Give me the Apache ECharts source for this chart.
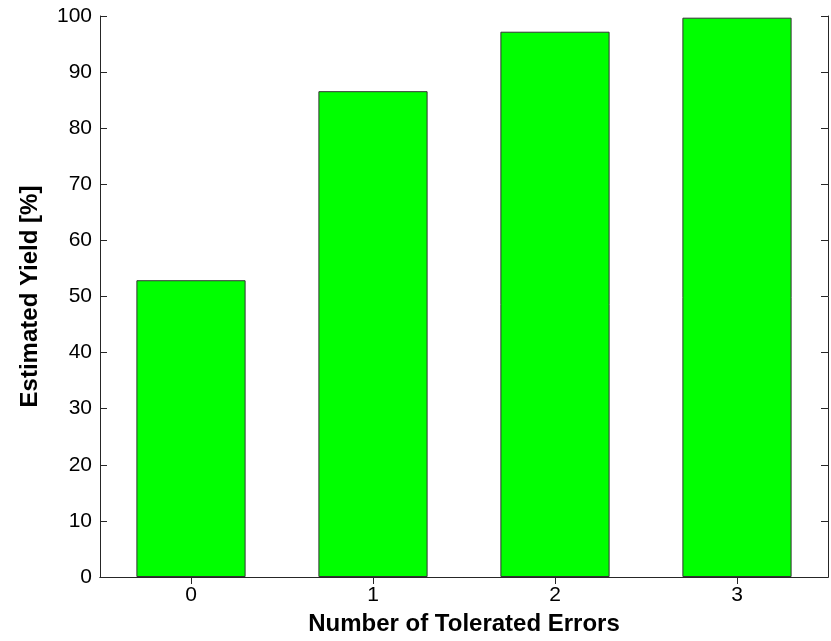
<!DOCTYPE html>
<html>
<head>
<meta charset="utf-8">
<script src="https://cdn.jsdelivr.net/npm/echarts@6/dist/echarts.min.js"></script>
<style>
  html, body { margin: 0; padding: 0; background: #ffffff; }
  #chart { width: 831px; height: 641px; }
</style>
</head>
<body>
<div id="chart"></div>
<script>
// Estimated yield versus the number of tolerated errors
const categories = ['0', '1', '2', '3'];
const yieldValues = [52.9, 86.6, 97.2, 99.7];
const yTicks = [0, 10, 20, 30, 40, 50, 60, 70, 80, 90, 100];

const FONT = 'Liberation Sans, Arial, sans-serif';
const AXIS_COLOR = '#262626';

const chart = echarts.init(document.getElementById('chart'), null, { renderer: 'canvas' });

const frameAxis = {
  axisLine: { show: true, lineStyle: { color: AXIS_COLOR, width: 1 } },
  axisTick: { show: true, inside: true, length: 7, lineStyle: { color: AXIS_COLOR, width: 1 } },
  splitLine: { show: false }
};

chart.setOption({
  backgroundColor: '#ffffff',
  animation: false,
  grid: { left: 100, right: 3, top: 16, bottom: 58, containLabel: false },
  xAxis: [
    Object.assign({}, frameAxis, {
      type: 'category',
      data: categories,
      position: 'bottom',
      boundaryGap: true,
      axisTick: Object.assign({}, frameAxis.axisTick, { alignWithLabel: true }),
      axisLabel: { color: '#000', fontFamily: FONT, fontSize: 21, margin: 8 },
      name: 'Number of Tolerated Errors',
      nameLocation: 'middle',
      nameGap: 35,
      nameTextStyle: { color: '#000', fontFamily: FONT, fontSize: 24, fontWeight: 'bold' }
    }),
    Object.assign({}, frameAxis, {
      type: 'category',
      data: categories,
      position: 'top',
      boundaryGap: true,
      axisTick: Object.assign({}, frameAxis.axisTick, { alignWithLabel: true }),
      axisLabel: { show: false }
    })
  ],
  yAxis: [
    Object.assign({}, frameAxis, {
      type: 'value',
      min: 0,
      max: 100,
      interval: 10,
      position: 'left',
      axisLabel: {
        color: '#000', fontFamily: FONT, fontSize: 21, margin: 8,
        formatter: v => (yTicks.indexOf(v) >= 0 ? String(v) : '')
      },
      name: 'Estimated Yield [%]',
      nameLocation: 'middle',
      nameGap: 58,
      nameTextStyle: { color: '#000', fontFamily: FONT, fontSize: 24, fontWeight: 'bold' }
    }),
    Object.assign({}, frameAxis, {
      type: 'value',
      min: 0,
      max: 100,
      interval: 10,
      position: 'right',
      axisLabel: { show: false }
    })
  ],
  series: [{
    type: 'bar',
    xAxisIndex: 0,
    yAxisIndex: 0,
    data: yieldValues,
    barWidth: '60%',
    itemStyle: { color: '#00ff00', borderColor: '#333333', borderWidth: 1 }
  }]
});
</script>
</body>
</html>
